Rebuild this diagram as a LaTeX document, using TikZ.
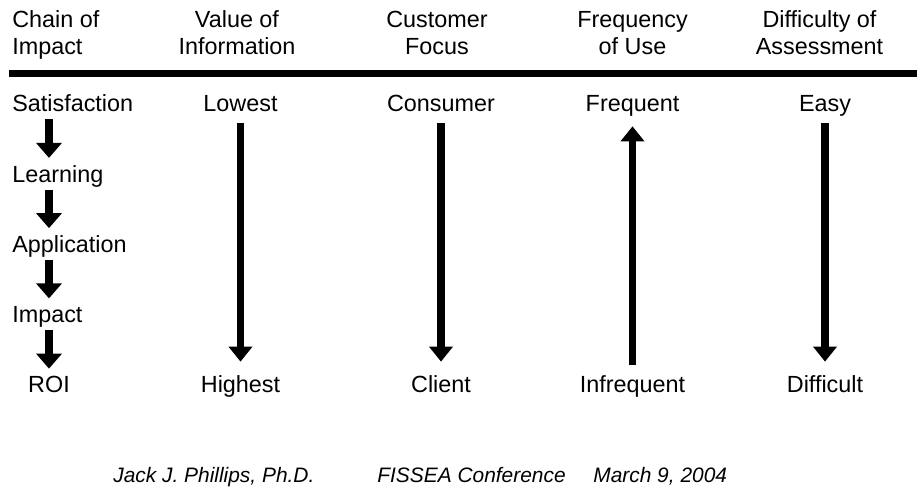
\documentclass[tikz,border=0pt]{standalone}
\usepackage{fontspec}
\setmainfont{Liberation Sans}
\usetikzlibrary{arrows.meta}

\begin{document}
\begin{tikzpicture}[
		head/.style={font=\fontsize{13.3}{15.8}\selectfont, inner sep=0pt, anchor=base, align=center},
		lbl/.style={font=\fontsize{13.3}{15.8}\selectfont, inner sep=0pt, anchor=base, text height=0.48cm, text depth=0.14cm},
		colarrow/.style={line width=0.15cm, -{Triangle[width=0.46cm, length=0.3cm]}, shorten <=0.08cm, shorten >=0.14cm},
		chainarrow/.style={line width=0.16cm, -{Triangle[width=0.5cm, length=0.3cm]}},
		foot/.style={font=\fontsize{11.9}{14}\selectfont\itshape, inner sep=0pt, anchor=base west}]
		\useasboundingbox (0,0) rectangle (18.34,9.82);
		% Headings (base = second line)
		\node[head, anchor=base west, align=left] (hchain) at (0.24,8.72) {Chain of\\Impact};
		\node[head] (hvalue) at (4.74,8.72) {Value of\\Information};
		\node[head] (hcust) at (8.74,8.72) {Customer\\Focus};
		\node[head] (hfreq) at (12.65,8.72) {Frequency\\of Use};
		\node[head] (hdiff) at (16.39,8.72) {Difficulty of\\Assessment};
		% Heavy rule under the headings
		\draw[line width=0.14cm] (0.18,8.34) -- (18.34,8.34);
		% Chain of impact
		\node[lbl, anchor=base west] (sat) at (0.24,7.58) {Satisfaction};
		\node[lbl, anchor=base west] (learn) at (0.24,6.175) {Learning};
		\node[lbl, anchor=base west] (appl) at (0.24,4.77) {Application};
		\node[lbl, anchor=base west] (imp) at (0.24,3.365) {Impact};
		\node[lbl] (roi) at (0.98,1.96) {ROI};
		\draw[chainarrow] (sat.south -| roi) -- (learn.north -| roi);
		\draw[chainarrow] (learn.south -| roi) -- (appl.north -| roi);
		\draw[chainarrow] (appl.south -| roi) -- (imp.north -| roi);
		\draw[chainarrow] (imp.south -| roi) -- (roi.north);
		% Value of information
		\node[lbl] (lowest) at (4.81,7.58) {Lowest};
		\node[lbl] (highest) at (4.81,1.96) {Highest};
		\draw[colarrow] (lowest) -- (highest);
		% Customer focus
		\node[lbl] (consumer) at (8.82,7.58) {Consumer};
		\node[lbl] (client) at (8.82,1.96) {Client};
		\draw[colarrow] (consumer) -- (client);
		% Frequency of use
		\node[lbl] (frequent) at (12.65,7.58) {Frequent};
		\node[lbl] (infrequent) at (12.65,1.96) {Infrequent};
		\draw[colarrow] (infrequent) -- (frequent);
		% Difficulty of assessment
		\node[lbl] (easy) at (16.5,7.58) {Easy};
		\node[lbl] (difficult) at (16.5,1.96) {Difficult};
		\draw[colarrow] (easy) -- (difficult);
		% Footer
		\node[foot] (author) at (2.26,0.16) {Jack J. Phillips, Ph.D.};
		\node[foot] (conf) at (7.54,0.16) {FISSEA Conference};
		\node[foot] (date) at (11.86,0.16) {March 9, 2004};
	\end{tikzpicture}
\end{document}
